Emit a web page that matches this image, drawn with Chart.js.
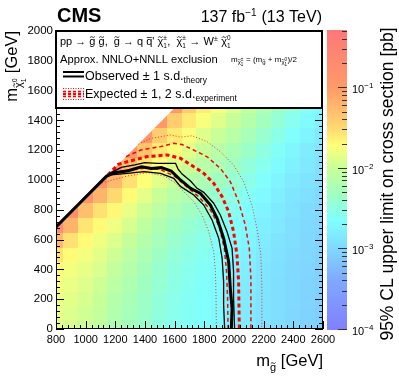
<!DOCTYPE html>
<html>
<head>
<meta charset="utf-8">
<script src="https://cdn.jsdelivr.net/npm/chart.js@4.4.1/dist/chart.umd.min.js"></script>
<style>
  body { margin: 0; background: #fff; }
  canvas { display: block; }
</style>
</head>
<body>
<canvas id="limitChart" width="399" height="383"></canvas>
<script>
// colour map grid: gluino mass columns, LSP mass rows (GeV)
const gluinoMasses = [800, 900, 1000, 1100, 1200, 1300, 1400, 1500, 1600, 1700, 1800, 1900, 2000, 2100, 2200, 2300, 2400, 2500, 2600];
const lspMasses = [0, 100, 200, 300, 400, 500, 600, 700, 800, 900, 1000, 1100, 1200, 1300, 1400, 1500];
// log10 of the 95% CL upper limit [pb], one column per gluino mass, LSP mass going up
const logLimits = [
  [-1.85, -1.83, -1.80, -1.76, -1.70, -1.55, -1.25, -0.75],
  [-1.92, -1.90, -1.87, -1.83, -1.78, -1.70, -1.55, -1.20, -0.75],
  [-1.98, -1.96, -1.93, -1.89, -1.84, -1.78, -1.70, -1.58, -1.30, -0.85],
  [-2.06, -2.04, -2.01, -1.97, -1.92, -1.86, -1.80, -1.70, -1.55, -1.20, -0.85],
  [-2.20, -2.18, -2.15, -2.10, -2.04, -1.97, -1.90, -1.80, -1.68, -1.50, -1.25, -0.85],
  [-2.30, -2.28, -2.25, -2.21, -2.16, -2.10, -2.02, -1.93, -1.83, -1.70, -1.55, -1.30, -0.90],
  [-2.40, -2.38, -2.36, -2.33, -2.29, -2.23, -2.16, -2.07, -1.97, -1.85, -1.72, -1.58, -1.35, -0.95],
  [-2.50, -2.48, -2.46, -2.43, -2.40, -2.35, -2.28, -2.20, -2.10, -1.99, -1.87, -1.74, -1.60, -1.40, -1.00],
  [-2.57, -2.56, -2.54, -2.52, -2.49, -2.45, -2.39, -2.32, -2.23, -2.12, -2.00, -1.88, -1.75, -1.60, -1.40, -1.00],
  [-2.62, -2.61, -2.60, -2.58, -2.56, -2.52, -2.47, -2.41, -2.33, -2.23, -2.12, -2.00, -1.88, -1.76, -1.60, -1.40],
  [-2.66, -2.65, -2.64, -2.63, -2.61, -2.58, -2.54, -2.48, -2.41, -2.33, -2.23, -2.12, -2.01, -1.89, -1.76, -1.62],
  [-2.72, -2.71, -2.70, -2.69, -2.67, -2.64, -2.60, -2.55, -2.49, -2.42, -2.33, -2.23, -2.12, -2.00, -1.88, -1.75],
  [-2.78, -2.78, -2.77, -2.76, -2.74, -2.71, -2.68, -2.63, -2.58, -2.51, -2.43, -2.34, -2.24, -2.13, -2.02, -1.90],
  [-2.84, -2.84, -2.83, -2.82, -2.80, -2.78, -2.75, -2.71, -2.67, -2.61, -2.54, -2.46, -2.37, -2.27, -2.16, -2.05],
  [-2.90, -2.90, -2.89, -2.88, -2.87, -2.85, -2.82, -2.79, -2.75, -2.70, -2.64, -2.57, -2.49, -2.40, -2.30, -2.20],
  [-2.95, -2.95, -2.94, -2.94, -2.93, -2.91, -2.89, -2.86, -2.83, -2.79, -2.74, -2.68, -2.61, -2.53, -2.44, -2.34],
  [-3.00, -3.00, -2.99, -2.99, -2.98, -2.97, -2.95, -2.93, -2.90, -2.87, -2.83, -2.78, -2.72, -2.65, -2.57, -2.48],
  [-3.04, -3.04, -3.03, -3.03, -3.02, -3.01, -3.00, -2.98, -2.96, -2.93, -2.90, -2.86, -2.81, -2.75, -2.68, -2.60],
  [-3.07, -3.07, -3.07, -3.06, -3.06, -3.05, -3.04, -3.02, -3.00, -2.98, -2.95, -2.92, -2.88, -2.83, -2.77, -2.70]
];
const massGap = 115; // kinematic edge of the scan: m(LSP) = m(gluino) - 115

// exclusion contours
const obsMg       = [800, 1141, 1197, 1286, 1376, 1443, 1510, 1577, 1639, 1707, 1774, 1841, 1886, 1930, 1964, 1975, 1987, 1982];
const obsMlsp     = [685, 1026, 1049, 1062, 1089, 1078, 1083, 1060, 1000, 944, 910, 832, 743, 609, 452, 273, 139, 0];
const obsUpMg     = [1160, 1240, 1331, 1398, 1483, 1606, 1622, 1650, 1707, 1751, 1796, 1863, 1908, 1953, 1987, 1997, 1997, 2004];
const obsUpMlsp   = [1045, 1085, 1101, 1116, 1112, 1112, 1075, 1040, 993, 944, 917, 844, 765, 653, 542, 385, 206, 0];
const obsDownMg   = [1130, 1169, 1281, 1393, 1505, 1594, 1639, 1729, 1796, 1852, 1897, 1920, 1930, 1930, 1937];
const obsDownMlsp = [1015, 1034, 1045, 1056, 1045, 1011, 957, 899, 832, 732, 609, 474, 318, 161, 0];
const expMg       = [1150, 1220, 1281, 1416, 1550, 1639, 1729, 1796, 1863, 1920, 1964, 1997, 2020, 2031, 2036];
const expMlsp     = [1035, 1105, 1123, 1157, 1168, 1146, 1089, 1045, 978, 888, 787, 653, 497, 318, 0];
const expUpMg     = [1272, 1371, 1505, 1594, 1650, 1729, 1819, 1908, 1975, 2031, 2076, 2103, 2114, 2114];
const expUpMlsp   = [1157, 1201, 1224, 1246, 1238, 1201, 1156, 1078, 989, 854, 698, 542, 340, 0];
const expUp2Mg    = [1355, 1438, 1572, 1639, 1718, 1819, 1908, 1997, 2065, 2121, 2159, 2181, 2188, 2188];
const expUp2Mlsp  = [1240, 1279, 1302, 1288, 1297, 1257, 1190, 1101, 989, 832, 653, 497, 273, 0];
const expDownMg   = [1140, 1250, 1400, 1500, 1600, 1680, 1760, 1840, 1900, 1935, 1950, 1957, 1960];
const expDownMlsp = [1025, 1062, 1080, 1072, 1025, 955, 890, 800, 690, 540, 380, 200, 0];
const expDown2Mg  = [1090, 1281, 1416, 1527, 1600, 1639, 1729, 1785, 1830, 1863, 1875, 1879, 1881];
const expDown2Mlsp= [975, 1027, 1049, 1027, 985, 945, 854, 765, 653, 519, 385, 206, 0];

// colour bar decades
const zMajor = [1e-4, 1e-3, 1e-2, 1e-1];
const zLabels = ['\u22124', '\u22123', '\u22122', '\u22121'];

const FONT = '"Liberation Sans", Arial, Helvetica, sans-serif';

// pastel palette (log10 value -> rgb)
const colourStops = [
  [-4.0, [128, 128, 255]], [-3.4, [128, 168, 255]], [-3.0, [128, 216, 255]], [-2.65, [128, 255, 255]],
  [-2.33, [160, 255, 192]], [-2.0, [200, 255, 152]], [-1.72, [255, 255, 120]], [-1.5, [255, 216, 112]],
  [-1.0, [255, 154, 104]], [-0.3, [255, 120, 120]]
];
function colourFor(v) {
  let c = colourStops[colourStops.length - 1][1];
  if (v <= colourStops[0][0]) c = colourStops[0][1];
  else {
    for (let i = 1; i < colourStops.length; i++) {
      if (v <= colourStops[i][0]) {
        const a = colourStops[i - 1], b = colourStops[i];
        const f = (v - a[0]) / (b[0] - a[0]);
        c = a[1].map((ch, k) => ch + (b[1][k] - ch) * f);
        break;
      }
    }
  }
  return 'rgb(' + c.map(Math.round).join(',') + ')';
}

function pts(xs, ys) { return xs.map((x, i) => ({ x: x, y: ys[i] })); }

function setFont(ctx, size, bold) { ctx.font = (bold ? 'bold ' : '') + size + 'px ' + FONT; }

function drawTilde(ctx, cx, y, w, s) {
  const a = s * 0.06;
  ctx.save();
  ctx.lineWidth = Math.max(0.6, s * 0.07);
  ctx.strokeStyle = ctx.fillStyle;
  ctx.beginPath();
  ctx.moveTo(cx - w / 2, y + a);
  ctx.quadraticCurveTo(cx - w / 4, y - 2 * a, cx, y);
  ctx.quadraticCurveTo(cx + w / 4, y + 2 * a, cx + w / 2, y - a);
  ctx.stroke();
  ctx.restore();
}

// little rich-text writer: strings or {t, s, dy, tilde, bar} or {sup, sub, s, up, down}
function rich(ctx, x, y, size, parts, draw) {
  let cx = x;
  parts.forEach(p => {
    if (typeof p === 'string') p = { t: p };
    if (p.sup !== undefined || p.sub !== undefined) {
      const ss = p.s || size * 0.62;
      setFont(ctx, ss);
      let w = 0;
      if (p.sup) { if (draw) ctx.fillText(p.sup, cx, y + (p.up !== undefined ? p.up : -size * 0.4)); w = ctx.measureText(p.sup).width; }
      if (p.sub) { if (draw) ctx.fillText(p.sub, cx, y + (p.down !== undefined ? p.down : size * 0.25)); w = Math.max(w, ctx.measureText(p.sub).width); }
      cx += w + 0.5;
      return;
    }
    const s = p.s || size;
    setFont(ctx, s, p.bold);
    const yy = y + (p.dy || 0);
    const w = ctx.measureText(p.t).width;
    if (draw) {
      ctx.fillText(p.t, cx, yy);
      if (p.tilde) drawTilde(ctx, cx + w / 2, yy - s * 0.72, w * 0.8, s);
      if (p.bar) {
        ctx.save();
        ctx.lineWidth = Math.max(0.6, s * 0.07);
        ctx.strokeStyle = ctx.fillStyle;
        ctx.beginPath();
        ctx.moveTo(cx + w * 0.1, yy - s * 0.68);
        ctx.lineTo(cx + w * 0.9, yy - s * 0.68);
        ctx.stroke();
        ctx.restore();
      }
    }
    cx += w;
  });
  return cx - x;
}

const heatmap = {
  id: 'heatmap',
  beforeDatasetsDraw(chart) {
    const { ctx, chartArea: a, scales: { x, y } } = chart;
    ctx.save();
    ctx.beginPath();
    ctx.rect(a.left, a.top, a.right - a.left, a.bottom - a.top);
    ctx.clip();
    ctx.beginPath();
    ctx.moveTo(x.getPixelForValue(800), y.getPixelForValue(0));
    ctx.lineTo(x.getPixelForValue(800), y.getPixelForValue(800 - massGap));
    ctx.lineTo(x.getPixelForValue(2600), y.getPixelForValue(2600 - massGap));
    ctx.lineTo(x.getPixelForValue(2600), y.getPixelForValue(0));
    ctx.closePath();
    ctx.clip();
    gluinoMasses.forEach((mg, i) => {
      const x0 = Math.floor(x.getPixelForValue(mg - 50));
      const x1 = Math.ceil(x.getPixelForValue(mg + 50));
      logLimits[i].forEach((v, j) => {
        const m = lspMasses[j];
        const y0 = Math.ceil(y.getPixelForValue(m - 50));
        const y1 = Math.floor(y.getPixelForValue(m + 50));
        ctx.fillStyle = colourFor(v);
        ctx.fillRect(x0, y1, x1 - x0, y0 - y1);
      });
    });
    ctx.restore();
  }
};

const decorations = {
  id: 'decorations',
  afterDatasetsDraw(chart) {
    const { ctx, chartArea: a, scales: { x, y, z } } = chart;
    ctx.save();
    ctx.fillStyle = '#000';
    ctx.strokeStyle = '#000';

    // frame ticks
    ctx.lineWidth = 1;
    ctx.beginPath();
    for (let m = 800; m <= 2600; m += 40) {
      const px = Math.round(x.getPixelForValue(m)) + 0.5;
      const len = (m - 800) % 200 === 0 ? 8 : 4;
      ctx.moveTo(px, a.bottom); ctx.lineTo(px, a.bottom - len);
    }
    for (let m = 0; m <= 2000; m += 40) {
      const py = Math.round(y.getPixelForValue(m)) + 0.5;
      const len = m % 200 === 0 ? 8 : 4;
      ctx.moveTo(a.left, py); ctx.lineTo(a.left + len, py);
      ctx.moveTo(a.right, py); ctx.lineTo(a.right - len, py);
    }
    ctx.stroke();
    ctx.strokeRect(a.left + 0.5, a.top + 0.5, a.right - a.left - 1, a.bottom - a.top - 1);

    // legend box
    ctx.fillStyle = '#fff';
    ctx.fillRect(a.left, a.top, a.right - a.left, 77);
    ctx.lineWidth = 2;
    ctx.strokeRect(a.left, a.top, a.right - a.left - 1, 77);
    ctx.fillStyle = '#000';
    const lx = a.left + 4;
    rich(ctx, lx, 45, 11, [
      'pp \u2192 ', { t: 'g', tilde: true }, ' ', { t: 'g', tilde: true }, ',  ',
      { t: 'g', tilde: true }, ' \u2192 q ', { t: 'q', bar: true }, '\' ',
      { t: '\u03c7', tilde: true }, { sup: '\u00b1', sub: '1', s: 6.5, up: -5, down: 3 }, ',  ',
      { t: '\u03c7', tilde: true }, { sup: '\u00b1', sub: '1', s: 6.5, up: -5, down: 3 }, ' \u2192 W',
      { sup: '\u00b1', s: 7, up: -4 }, ' ', { t: '\u03c7', tilde: true }, { sup: '0', sub: '1', s: 6.5, up: -5, down: 3 }
    ], true);
    rich(ctx, lx, 63, 11.2, ['Approx. NNLO+NNLL exclusion'], true);
    rich(ctx, 231, 62, 8, [
      'm', { t: '\u03c7', s: 6, dy: 2, tilde: true }, { sup: '\u00b1', sub: '1', s: 4.5, up: -1, down: 4 },
      ' = (m', { t: 'g', s: 6, dy: 2, tilde: true }, ' + m', { t: '\u03c7', s: 6, dy: 2, tilde: true },
      { sup: '0', sub: '1', s: 4.5, up: -1, down: 4 }, ')/2'
    ], true);
    rich(ctx, 85, 80, 12.5, ['Observed \u00b1 1 s.d.', { t: 'theory', s: 8.4, dy: 3 }], true);
    rich(ctx, 85, 98, 12.5, ['Expected \u00b1 1, 2 s.d.', { t: 'experiment', s: 8.4, dy: 3 }], true);

    // legend symbols
    ctx.lineWidth = 2;
    ctx.beginPath();
    ctx.moveTo(63, 72); ctx.lineTo(84, 72);
    ctx.moveTo(63, 76.5); ctx.lineTo(84, 76.5);
    ctx.stroke();
    ctx.strokeStyle = '#f00';
    ctx.lineWidth = 1;
    ctx.setLineDash([1, 1.5]);
    ctx.beginPath();
    ctx.moveTo(63, 88.5); ctx.lineTo(84, 88.5);
    ctx.moveTo(63, 99.5); ctx.lineTo(84, 99.5);
    ctx.stroke();
    ctx.setLineDash([3, 2]);
    ctx.lineWidth = 1.3;
    ctx.beginPath();
    ctx.moveTo(63, 91.5); ctx.lineTo(84, 91.5);
    ctx.moveTo(63, 96.5); ctx.lineTo(84, 96.5);
    ctx.stroke();
    ctx.lineWidth = 2.5;
    ctx.beginPath();
    ctx.moveTo(63, 94); ctx.lineTo(84, 94);
    ctx.stroke();
    ctx.setLineDash([]);

    // colour bar
    const bx0 = 327, bx1 = 347;
    for (let py = Math.floor(z.top) - 1; py < Math.ceil(z.bottom) + 1; py++) {
      const v = Math.log10(z.getValueForPixel(py + 0.5));
      ctx.fillStyle = colourFor(v);
      ctx.fillRect(bx0, py, bx1 - bx0, 1);
    }
    ctx.strokeStyle = '#333';
    ctx.lineWidth = 1;
    ctx.beginPath();
    zMajor.forEach(d => {
      for (let k = 1; k <= 9; k++) {
        const val = d * k;
        if (val > z.max) break;
        const py = Math.round(z.getPixelForValue(val)) + 0.5;
        ctx.moveTo(bx1, py); ctx.lineTo(bx1 - (k === 1 ? 9 : 5), py);
      }
    });
    ctx.stroke();
    ctx.fillStyle = '#000';
    zMajor.forEach((d, i) => {
      const py = z.getPixelForValue(d);
      rich(ctx, 352, py + 6, 11, ['10', { sup: zLabels[i], s: 8, up: -5 }], true);
    });

    // titles
    setFont(ctx, 20, true);
    ctx.fillText('CMS', 57, 22);
    const lumi = ['137 fb', { sup: '\u22121', s: 10, up: -6 }, ' (13 TeV)'];
    const lw = rich(ctx, 0, 0, 16, lumi, false);
    rich(ctx, 322 - lw, 22, 16, lumi, true);

    const xt = ['m', { t: 'g', s: 11, dy: 5, tilde: true }, ' [GeV]'];
    const xw = rich(ctx, 0, 0, 16.5, xt, false);
    rich(ctx, a.right - xw, 366, 16.5, xt, true);

    const yt = ['m', { t: '\u03c7', s: 11, dy: 5, tilde: true }, { sup: '0', sub: '1', s: 7, up: 0, down: 9 }, ' [GeV]'];
    const yw = rich(ctx, 0, 0, 16.5, yt, false);
    ctx.save();
    ctx.translate(17, a.top);
    ctx.rotate(-Math.PI / 2);
    rich(ctx, -yw, 0, 16.5, yt, true);
    ctx.restore();

    setFont(ctx, 17.5);
    const zt = '95% CL upper limit on cross section [pb]';
    const zw = ctx.measureText(zt).width;
    ctx.save();
    ctx.translate(393, 184);
    ctx.rotate(-Math.PI / 2);
    ctx.fillText(zt, -zw / 2, 0);
    ctx.restore();

    ctx.restore();
  }
};

const lineSet = (xs, ys, colour, width, dash) => ({
  type: 'line',
  data: pts(xs, ys),
  showLine: true,
  borderColor: colour,
  borderWidth: width,
  borderDash: dash,
  pointRadius: 0,
  fill: false,
  tension: 0
});

new Chart(document.getElementById('limitChart'), {
  type: 'scatter',
  data: {
    datasets: [
      lineSet(obsMg, obsMlsp, '#000', 3, []),
      lineSet(obsUpMg, obsUpMlsp, '#000', 1.3, []),
      lineSet(obsDownMg, obsDownMlsp, '#000', 1.3, []),
      lineSet(expMg, expMlsp, '#f00', 3, [4, 3]),
      lineSet(expUpMg, expUpMlsp, '#f00', 1.5, [4, 3]),
      lineSet(expDownMg, expDownMlsp, '#f00', 1.5, [4, 3]),
      lineSet(expUp2Mg, expUp2Mlsp, 'rgba(255,0,0,0.8)', 1, [1, 2]),
      lineSet(expDown2Mg, expDown2Mlsp, 'rgba(255,0,0,0.8)', 1, [1, 2])
    ]
  },
  options: {
    responsive: false,
    animation: false,
    devicePixelRatio: 1,
    layout: { padding: { top: 31, right: 76, left: 0, bottom: 0 } },
    plugins: { legend: { display: false }, tooltip: { enabled: false } },
    scales: {
      x: {
        type: 'linear', min: 800, max: 2600,
        grid: { display: false, drawTicks: false }, border: { display: false },
        ticks: { stepSize: 200, autoSkip: false, maxRotation: 0, padding: 4, color: '#000', font: { family: FONT, size: 11 }, callback: v => String(v) },
        afterFit: s => { s.height = 54; s.paddingLeft = 0; s.paddingRight = 0; }
      },
      y: {
        type: 'linear', min: 0, max: 2000,
        grid: { display: false, drawTicks: false }, border: { display: false },
        ticks: { stepSize: 200, padding: 3, color: '#000', font: { family: FONT, size: 11.5 }, callback: v => String(v) },
        afterFit: s => { s.width = 56; s.paddingTop = 0; s.paddingBottom = 0; }
      },
      z: {
        type: 'logarithmic', position: 'right', min: 1e-4, max: 0.5,
        grid: { display: false }, border: { display: false }, ticks: { display: false },
        afterFit: s => { s.width = 0; s.paddingTop = 0; s.paddingBottom = 0; }
      }
    }
  },
  plugins: [heatmap, decorations]
});
</script>
</body>
</html>
